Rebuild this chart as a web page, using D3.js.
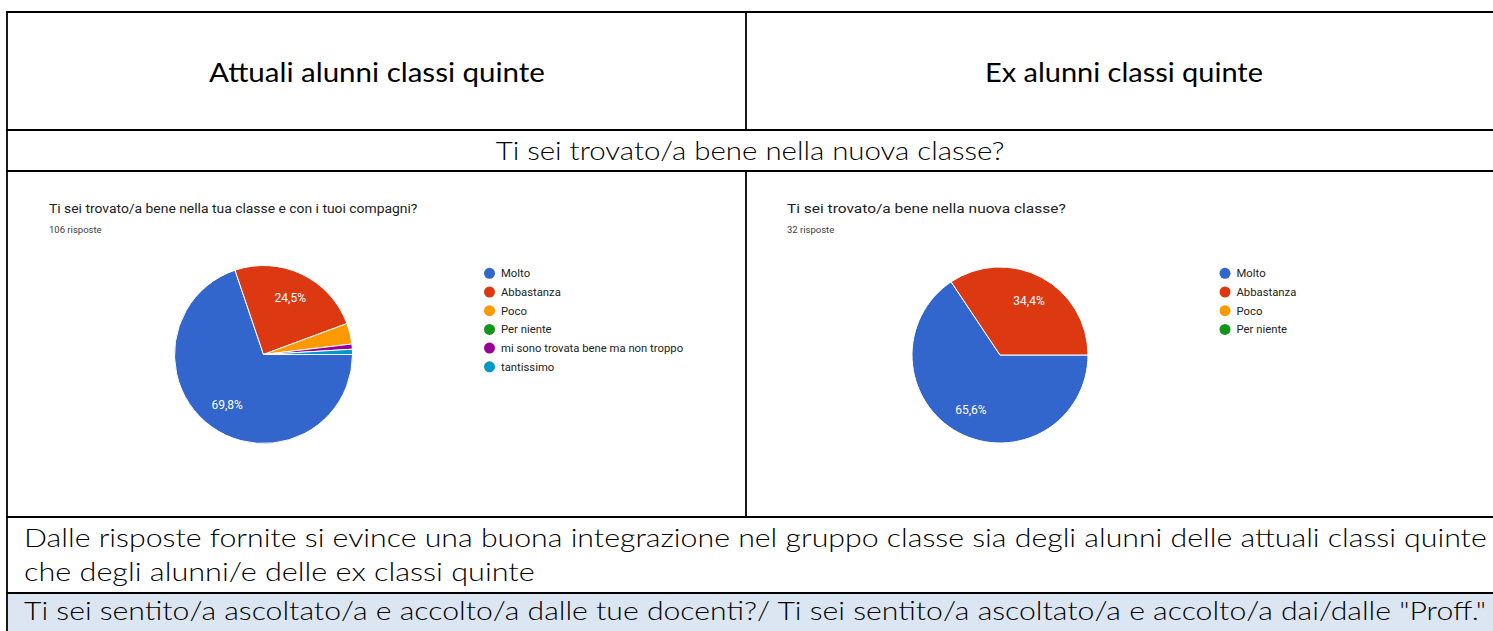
<!DOCTYPE html>
<html>
<head>
<meta charset="utf-8">
<script src="https://cdn.jsdelivr.net/npm/d3@7"></script>
<style>
    body { margin: 0; background: #fff; }
    svg { display: block; }
    .doc { font-family: Lato, Carlito, sans-serif; fill: #000; }
    .gf { font-family: Roboto, Arial, sans-serif; }
</style>
</head>
<body>
<svg width="1493" height="631"></svg>
<script>
// data
const headers = ['Attuali alunni classi quinte', 'Ex alunni classi quinte']
const question = 'Ti sei trovato/a bene nella nuova classe?'
const comment = [
    'Dalle risposte fornite si evince una buona integrazione nel gruppo classe sia degli alunni delle attuali classi quinte',
    'che degli alunni/e delle ex classi quinte'
]
const nextQuestion = 'Ti sei sentito/a ascoltato/a e accolto/a dalle tue docenti?/ Ti sei sentito/a ascoltato/a e accolto/a dai/dalle "Proff."'

const titleA = 'Ti sei trovato/a bene nella tua classe e con i tuoi compagni?'
const answersA = '106 risposte'
const categoriesA = ['Molto', 'Abbastanza', 'Poco', 'Per niente', 'mi sono trovata bene ma non troppo', 'tantissimo']
const countsA = [74, 26, 4, 0, 1, 1]

const titleB = 'Ti sei trovato/a bene nella nuova classe?'
const answersB = '32 risposte'
const categoriesB = ['Molto', 'Abbastanza', 'Poco', 'Per niente']
const countsB = [21, 11, 0, 0]

const colors = ['#3366cc', '#dc3912', '#ff9900', '#109618', '#990099', '#0099c6']

const
    width = 1493,
    height = 631,
    svg = d3.select('svg')

const it = d3.formatLocale({ decimal: ',', thousands: '.', grouping: [3], currency: ['', '€'] })
const pct = it.format('.1%')

// squeeze a text horizontally so it takes the width it has in the picture
function fitText(x, y, str, size, target, anchor, cls, weight) {
    const t = svg.append('text')
        .attr('class', cls)
        .attr('font-size', size)
        .attr('font-weight', weight || 400)
        .attr('text-anchor', anchor)
        .text(str)
    const s = target / t.node().getComputedTextLength()
    t.attr('transform', `translate(${x},${y}) scale(${s},1)`)
    return t
}

// table
const rowsY = [12, 130, 171, 517, 593],
    left = 7,
    mid = 746

svg.append('rect')
    .attr('x', left).attr('y', rowsY[4])
    .attr('width', width - left).attr('height', height - rowsY[4])
    .attr('fill', '#dce6f2')

const grid = svg.append('g').attr('stroke', '#000').attr('stroke-width', 1.8)
rowsY.forEach(y => grid.append('line').attr('x1', left - 1).attr('x2', width).attr('y1', y).attr('y2', y))
grid.append('line').attr('x1', left).attr('x2', left).attr('y1', rowsY[0]).attr('y2', height)
grid.append('line').attr('x1', mid).attr('x2', mid).attr('y1', rowsY[0]).attr('y2', rowsY[1])
grid.append('line').attr('x1', mid).attr('x2', mid).attr('y1', rowsY[2]).attr('y2', rowsY[3])

fitText(377, 82, headers[0], 26, 336, 'middle', 'doc')
fitText(1124, 82, headers[1], 26, 278, 'middle', 'doc')
fitText(750, 160, question, 26, 509, 'middle', 'doc', 300)
fitText(24, 547, comment[0], 26, 1463, 'start', 'doc', 300)
fitText(24, 581, comment[1], 26, 511, 'start', 'doc', 300)
fitText(24, 620, nextQuestion, 26, 1463, 'start', 'doc', 300)

// google forms style pie
function pieChart(opts) {
    const { x0, title, titleW, answers, categories, counts, cx, cy, r, legendX } = opts
    const total = d3.sum(counts)

    fitText(x0, 213, title, 13, titleW, 'start', 'gf').attr('fill', '#202124')
    svg.append('text')
        .attr('class', 'gf')
        .attr('x', x0).attr('y', 233)
        .attr('font-size', 9.5)
        .attr('fill', '#3c4043')
        .text(answers)

    const pie = d3.pie()
        .sort(null)
        .startAngle(Math.PI / 2)
        .endAngle(Math.PI / 2 + 2 * Math.PI)

    const arcs = pie(counts)
    const arc = d3.arc().innerRadius(0).outerRadius(r)
    const labelArc = d3.arc().innerRadius(r * 0.7).outerRadius(r * 0.7)

    const g = svg.append('g').attr('transform', `translate(${cx},${cy})`)

    g.selectAll('path')
        .data(arcs.filter(d => d.value > 0))
        .enter().append('path')
        .attr('d', arc)
        .attr('fill', d => colors[d.index])
        .attr('stroke', '#fff')
        .attr('stroke-width', 1)

    g.selectAll('text')
        .data(arcs.filter(d => d.value / total > 0.05))
        .enter().append('text')
        .attr('class', 'gf')
        .attr('transform', d => `translate(${labelArc.centroid(d)})`)
        .attr('text-anchor', 'middle')
        .attr('dy', '0.35em')
        .attr('font-size', 12)
        .attr('fill', '#fff')
        .text(d => pct(d.value / total))

    const y = d3.scalePoint()
        .domain(categories)
        .range([273.3, 273.3 + 18.7 * (categories.length - 1)])

    const legend = svg.append('g')
        .selectAll('g')
        .data(categories)
        .enter().append('g')
        .attr('transform', d => `translate(${legendX},${y(d)})`)

    legend.append('circle')
        .attr('r', 5.5)
        .attr('fill', (d, i) => colors[i])

    legend.append('text')
        .attr('class', 'gf')
        .attr('x', 11.5)
        .attr('dy', '0.35em')
        .attr('font-size', 11.3)
        .attr('fill', '#222')
        .text(d => d)
}

pieChart({
    x0: 49, title: titleA, titleW: 369, answers: answersA,
    categories: categoriesA, counts: countsA,
    cx: 263.5, cy: 354.5, r: 89, legendX: 489.5
})

pieChart({
    x0: 787, title: titleB, titleW: 279, answers: answersB,
    categories: categoriesB, counts: countsB,
    cx: 1000, cy: 355, r: 88, legendX: 1225
})
</script>
</body>
</html>
